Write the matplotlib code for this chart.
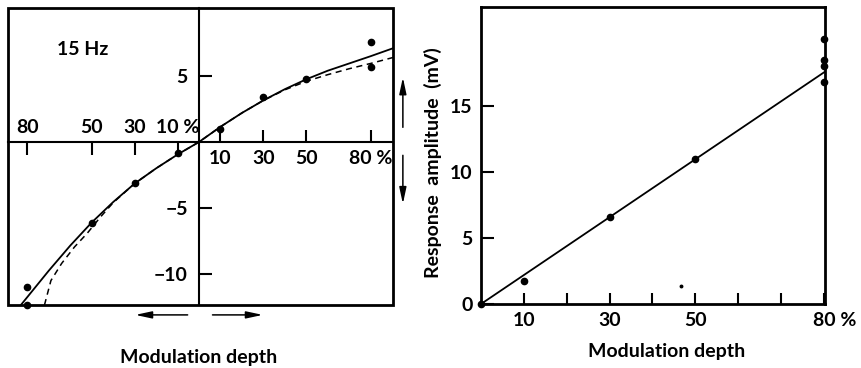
import matplotlib
matplotlib.use("Agg")
import matplotlib.pyplot as plt
from matplotlib.patches import Rectangle
from matplotlib.transforms import ScaledTranslation

plt.rcParams['font.family'] = ['Lato', 'DejaVu Sans']
plt.rcParams['font.weight'] = 'bold'
plt.rcParams['font.size'] = 14

# ---- left panel (15 Hz), signed depth ----
pos_depth = [10, 30, 50, 80, 80]
pos_amp = [1.0, 3.4, 4.8, 7.6, 5.7]
neg_depth = [-10, -30, -50, -80, -80]
neg_amp = [-0.85, -3.1, -6.1, -11.0, -12.35]

solid_x = [-83, -80, -70, -60, -50, -40, -30, -20, -10, 0, 10, 20, 30, 40, 50, 60, 70, 80, 90.4]
solid_y = [-12.35, -11.75, -9.75, -7.85, -6.1, -4.55, -3.15, -2.0, -0.95, 0,
           1.15, 2.2, 3.15, 4.0, 4.75, 5.4, 5.95, 6.5, 7.1]

dash_x = [-72, -69, -64, -58, -52, -46, -40, -30, -20, -10, 0, 10, 20, 30, 40, 50, 60, 70, 80, 90.4]
dash_y = [-12.35, -10.5, -9.2, -7.95, -6.9, -5.7, -4.6, -3.15, -2.0, -0.95, 0,
          1.15, 2.2, 3.15, 3.95, 4.6, 5.1, 5.55, 5.95, 6.4]

pos_ticks = [10, 30, 50, 80]
pos_labels = ['10', '30', '50', '80 %']
neg_ticks = [-80, -50, -30, -10]
neg_labels = ['80', '50', '30', '10 %']
amp_ticks = [-10, -5, 5]
amp_labels = ['\u221210', '\u22125', '5']

# ---- right panel ----
depth = [0, 10, 30, 50, 80, 80, 80, 80]
amp = [0, 1.75, 6.6, 11.0, 20.1, 18.5, 18.0, 16.8]
fit_x = [0, 80.3]
fit_y = [0, 17.6]
speck_x = [46.6]
speck_y = [1.4]
depth_ticks = [10, 20, 30, 40, 50, 60, 70, 80]
depth_labels = ['10', '', '30', '', '50', '', '', '80 %']
r_amp_ticks = [0, 5, 10, 15]
r_amp_labels = ['0', '5', '10', '15']

fig = plt.figure(figsize=(8.62, 3.68), dpi=100)

# left
ax1 = fig.add_axes([8/862, 1-305/368, 385/862, 297/368])
ax1.plot(solid_x, solid_y, color='k', lw=1.3)
ax1.plot(dash_x, dash_y, color='k', lw=1.1, ls=(0, (4, 3)))
ax1.plot(pos_depth, pos_amp, 'o', color='k', ms=4.5, clip_on=False)
ax1.plot(neg_depth, neg_amp, 'o', color='k', ms=4.5, clip_on=False)
ylo, yhi = -12.35, 10.15
ax1.set_xlim(-89, 90.4)
ax1.set_ylim(ylo, yhi)
ax1.spines[['top', 'right']].set_visible(False)
ax1.spines['left'].set_position(('data', 0))
ax1.spines['bottom'].set_position(('data', 0))
ax1.spines[['left', 'bottom']].set_linewidth(1.5)
ax1.add_patch(Rectangle((0, 0), 1, 1, transform=ax1.transAxes, fill=False,
                        lw=2, clip_on=False, zorder=5))
ax1.set_xticks(pos_ticks, pos_labels)
ax1.tick_params(axis='x', direction='in', length=9, width=1.5, pad=6)
ax1.set_yticks(amp_ticks, amp_labels)
ax1.tick_params(axis='y', direction='in', length=9, width=1.5, pad=8)

sec = ax1.secondary_xaxis(-ylo / (yhi - ylo))
sec.set_alignment('top')
sec.set_xticks(neg_ticks, neg_labels)
sec.tick_params(direction='in', length=9, width=1.5, pad=4)
sec.spines[['top', 'bottom']].set_visible(False)

ax1.text(-66, 7.0, '15 Hz', ha='left', va='center')

arrow = dict(arrowstyle='-|>,head_length=0.7,head_width=0.15', lw=1.1, color='k')
ax1.annotate('', xy=(95, 5.1), xytext=(95, 0.9), arrowprops=arrow, annotation_clip=False)
ax1.annotate('', xy=(95, -4.9), xytext=(95, -0.8), arrowprops=arrow, annotation_clip=False)
ax1.annotate('', xy=(-31, -13.1), xytext=(-4, -13.1), arrowprops=arrow, annotation_clip=False)
ax1.annotate('', xy=(31, -13.1), xytext=(5, -13.1), arrowprops=arrow, annotation_clip=False)

fig.text(199/862, 1-357/368, 'Modulation depth', ha='center', va='center')

# right
ax2 = fig.add_axes([481/862, 1-304/368, 344/862, 297/368])
ax2.plot(fit_x, fit_y, color='k', lw=1.3)
ax2.plot(depth, amp, 'o', color='k', ms=4.5, clip_on=False)
ax2.plot(speck_x, speck_y, 'o', color='k', ms=1.8)
ax2.set_xlim(0, 80.3)
ax2.set_ylim(0, 22.5)
for s in ax2.spines.values():
    s.set_linewidth(2)
ax2.set_xticks(depth_ticks, depth_labels)
ax2.tick_params(axis='x', direction='in', length=8, width=1.5, pad=6)
ax2.set_yticks(r_amp_ticks, r_amp_labels)
ax2.tick_params(axis='y', direction='in', length=9, width=1.5, pad=6)
lab = ax2.get_xticklabels()[-1]
lab.set_transform(lab.get_transform() + ScaledTranslation(11/100, 0, fig.dpi_scale_trans))

fig.text(667/862, 1-352/368, 'Modulation depth', ha='center', va='center')
fig.text(433/862, 1-163/368, 'Response  amplitude  (mV)', ha='center', va='center',
         rotation=90)

fig.savefig('out.png', dpi=100)
